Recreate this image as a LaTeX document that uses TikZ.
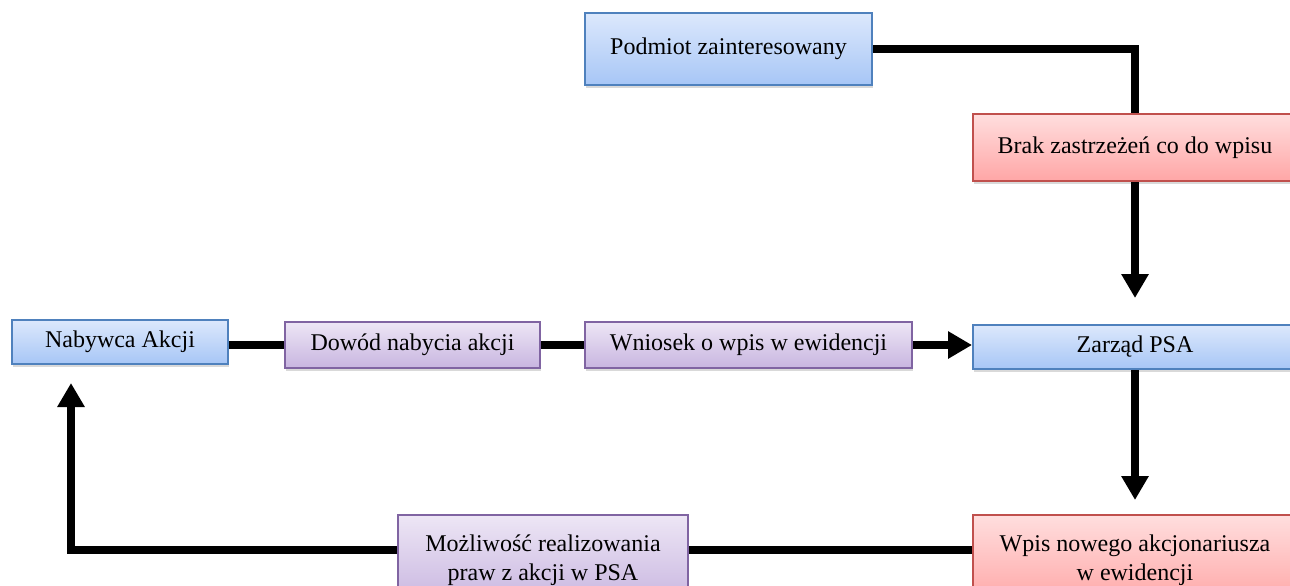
\documentclass[tikz,border=0pt]{standalone}
\usepackage{fontspec}
\setmainfont{Liberation Serif}
\usetikzlibrary{arrows.meta,shadows}

\definecolor{blueline}{HTML}{4F81BD}
\definecolor{bluetop}{HTML}{DCE8FC}
\definecolor{bluebot}{HTML}{A7C6F6}
\definecolor{redline}{HTML}{C0504D}
\definecolor{redtop}{HTML}{FFDEDE}
\definecolor{redbot}{HTML}{FFA6A6}
\definecolor{violetline}{HTML}{8064A2}
\definecolor{violettop}{HTML}{EDE6F5}
\definecolor{violetbot}{HTML}{C8B5E0}

\tikzstyle{box}=[draw, line width=1pt, inner sep=2pt, align=center,
    drop shadow={opacity=0.3, shadow xshift=0.6pt, shadow yshift=-1.6pt}]

\begin{document}
\begin{tikzpicture}[x=0.5pt, y=-0.5pt, font=\fontsize{12}{14.5}\selectfont,
    blue box/.style={box, draw=blueline, top color=bluetop, bottom color=bluebot},
    red box/.style={box, draw=redline, top color=redtop, bottom color=redbot},
    violet box/.style={box, draw=violetline, top color=violettop, bottom color=violetbot},
    conn/.style={line width=4pt},
    arrow/.style={conn, -{Triangle[length=12pt,width=13pt]}}]

\useasboundingbox (0,0) rectangle (1290,585);
\clip (0,0) rectangle (1290,585);

% upper branch
\node[blue box, minimum width=143.5pt, minimum height=36pt] (podmiot) at (728.5,49) {Podmiot zainteresowany};
\node[red box, minimum width=162pt, minimum height=33.5pt] (brak) at (1135,147.5) {Brak zastrzeżeń co do wpisu};

% middle row
\node[blue box, minimum width=108pt, minimum height=22pt] (nabywca) at (120,342) {Nabywca Akcji};
\node[violet box, minimum width=127.5pt, minimum height=23pt] (dowod) at (412.5,345) {Dowód nabycia akcji};
\node[violet box, minimum width=163.5pt, minimum height=23pt] (wniosek) at (748.5,345) {Wniosek o wpis w ewidencji};
\node[blue box, minimum width=162pt, minimum height=22pt] (zarzad) at (1135,347) {Zarząd PSA};

% bottom row
\node[violet box, minimum width=145pt, minimum height=45pt] (mozliwosc) at (543,560) {Możliwość realizowania\\praw z akcji w PSA};
\node[red box, minimum width=162pt, minimum height=45pt] (wpis) at (1135,560) {Wpis nowego akcjonariusza\\w ewidencji};

% connectors
\draw[conn] (podmiot.east) -| (brak.north);
\draw[arrow, shorten >=13pt] (brak.south) -- (zarzad.north);
\draw[conn] (nabywca.east |- dowod.west) -- (dowod.west);
\draw[conn] (dowod.east) -- (wniosek.west);
\draw[arrow] (wniosek.east) -- (zarzad.west |- wniosek.east);
\draw[arrow, shorten >=7pt] (zarzad.south) -- (wpis.north);
\draw[conn] ([yshift=5pt]wpis.west) -- ([yshift=5pt]mozliwosc.east);
\draw[arrow, shorten >=9pt] ([yshift=5pt]mozliwosc.west) -| ([xshift=30pt]nabywca.south west);

\end{tikzpicture}
\end{document}
